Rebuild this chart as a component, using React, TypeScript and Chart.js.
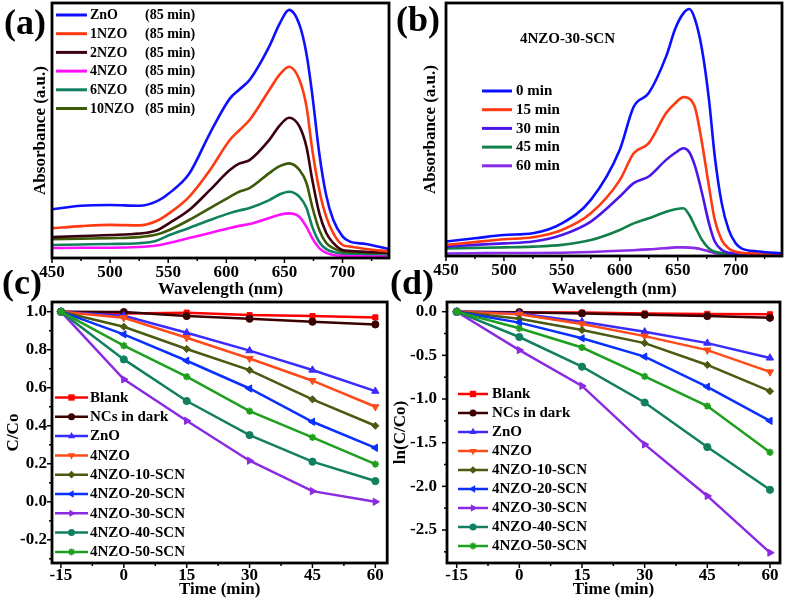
import React, { useEffect, useRef } from "react";
import { Chart, registerables } from "chart.js";

Chart.register(...registerables);

const FONT = "'Liberation Serif', 'Times New Roman', serif";

// ---------- Panel (a): spectra after 85 min ----------
const A_WAVELENGTH = [450, 475, 500, 525, 540, 551, 568, 586, 603, 611, 620, 637, 646, 654, 663, 669, 674, 680, 686, 692, 700, 706, 720, 740];
const A_ZNO = [0.191, 0.205, 0.208, 0.205, 0.222, 0.255, 0.33, 0.49, 0.625, 0.66, 0.698, 0.83, 0.92, 0.973, 0.914, 0.8, 0.64, 0.41, 0.245, 0.15, 0.085, 0.065, 0.055, 0.035];
const A_1NZO = [0.117, 0.125, 0.13, 0.128, 0.145, 0.176, 0.24, 0.345, 0.463, 0.5, 0.541, 0.659, 0.72, 0.75, 0.698, 0.594, 0.424, 0.267, 0.161, 0.098, 0.051, 0.045, 0.035, 0.026];
const A_2NZO = [0.082, 0.086, 0.09, 0.096, 0.108, 0.137, 0.188, 0.267, 0.345, 0.37, 0.384, 0.463, 0.52, 0.55, 0.515, 0.435, 0.306, 0.176, 0.098, 0.059, 0.031, 0.028, 0.024, 0.02];
const A_4NZO = [0.039, 0.04, 0.04, 0.043, 0.049, 0.059, 0.078, 0.098, 0.118, 0.126, 0.133, 0.157, 0.17, 0.175, 0.161, 0.122, 0.078, 0.039, 0.02, 0.012, 0.008, 0.007, 0.006, 0.005];
const A_6NZO = [0.051, 0.053, 0.055, 0.058, 0.068, 0.09, 0.118, 0.149, 0.176, 0.186, 0.196, 0.227, 0.25, 0.26, 0.24, 0.196, 0.122, 0.063, 0.035, 0.024, 0.016, 0.014, 0.012, 0.01];
const A_10NZO = [0.074, 0.076, 0.078, 0.082, 0.092, 0.11, 0.149, 0.196, 0.24, 0.26, 0.274, 0.333, 0.36, 0.371, 0.345, 0.294, 0.2, 0.11, 0.059, 0.039, 0.024, 0.02, 0.017, 0.015];
const A_LABELS = ["ZnO", "1NZO", "2NZO", "4NZO", "6NZO", "10NZO"];
const A_TIME_LABEL = "(85 min)";
const A_COLORS = ["#1010FF", "#FF3A10", "#3A0010", "#FF10FF", "#108060", "#3D5A08"];

// ---------- Panel (b): 4NZO-30-SCN spectra vs time ----------
const B_WAVELENGTH = [450, 475, 500, 525, 550, 575, 600, 612, 625, 640, 648, 655, 660, 665, 671, 677, 682, 688, 694, 700, 705, 720, 740];
const B_0 = [0.057, 0.07, 0.083, 0.09, 0.129, 0.222, 0.42, 0.59, 0.644, 0.789, 0.9, 0.96, 0.976, 0.934, 0.815, 0.617, 0.393, 0.208, 0.103, 0.05, 0.03, 0.018, 0.01];
const B_15 = [0.044, 0.055, 0.066, 0.074, 0.103, 0.169, 0.3, 0.406, 0.446, 0.565, 0.605, 0.628, 0.622, 0.585, 0.446, 0.274, 0.142, 0.063, 0.03, 0.017, 0.013, 0.01, 0.008];
const B_30 = [0.037, 0.044, 0.05, 0.057, 0.083, 0.136, 0.235, 0.288, 0.314, 0.38, 0.408, 0.426, 0.41, 0.354, 0.248, 0.129, 0.057, 0.024, 0.013, 0.01, 0.008, 0.007, 0.006];
const B_45 = [0.03, 0.032, 0.034, 0.037, 0.044, 0.063, 0.103, 0.129, 0.149, 0.175, 0.185, 0.189, 0.162, 0.116, 0.063, 0.03, 0.017, 0.012, 0.01, 0.009, 0.008, 0.007, 0.006];
const B_60 = [0.01, 0.011, 0.012, 0.012, 0.013, 0.016, 0.021, 0.023, 0.026, 0.031, 0.034, 0.034, 0.033, 0.031, 0.026, 0.018, 0.012, 0.008, 0.006, 0.005, 0.005, 0.004, 0.004];
const B_LABELS = ["0 min", "15 min", "30 min", "45 min", "60 min"];
const B_SAMPLE = "4NZO-30-SCN";
const B_COLORS = ["#0A10FF", "#FF3A12", "#4A16E8", "#12804A", "#8A2BE8"];

const WAVE_TICKS = [450, 500, 550, 600, 650, 700];
const WAVE_MINOR = [475, 525, 575, 625, 675, 725];

// ---------- Panels (c) and (d): kinetics ----------
const TIME = [-15, 0, 15, 30, 45, 60];
const TIME_TICKS = [-15, 0, 15, 30, 45, 60];
const TIME_MINOR = [-7.5, 7.5, 22.5, 37.5, 52.5];
const SERIES_LABELS = ["Blank", "NCs in dark", "ZnO", "4NZO", "4NZO-10-SCN", "4NZO-20-SCN", "4NZO-30-SCN", "4NZO-40-SCN", "4NZO-50-SCN"];
const SERIES_COLORS = ["#FF0000", "#3A0000", "#3A2BFF", "#FF4A1A", "#4A5A10", "#0A30FF", "#8A2BE2", "#128060", "#1EA01E"];
const SERIES_MARKERS = ["rect", "circle", "triangle", "triangle", "rectRot", "triangle", "triangle", "circle", "star"];
const SERIES_ROTATION = [0, 0, 0, 180, 0, -90, 90, 0, 0];

const C_BLANK = [1.0, 0.99, 0.995, 0.982, 0.977, 0.97];
const C_DARK = [1.0, 0.998, 0.977, 0.963, 0.947, 0.933];
const C_ZNO = [1.0, 0.979, 0.889, 0.795, 0.693, 0.582];
const C_4NZO = [1.0, 0.968, 0.863, 0.754, 0.637, 0.5];
const C_10SCN = [1.0, 0.921, 0.804, 0.693, 0.539, 0.4];
const C_20SCN = [1.0, 0.881, 0.742, 0.596, 0.421, 0.284];
const C_30SCN = [1.0, 0.644, 0.426, 0.216, 0.056, 0.0];
const C_40SCN = [1.0, 0.749, 0.53, 0.351, 0.211, 0.109];
const C_50SCN = [1.0, 0.821, 0.658, 0.477, 0.339, 0.198];
const C_TICKS = [-0.2, 0, 0.2, 0.4, 0.6, 0.8, 1.0];
const C_MINOR = [-0.3, -0.1, 0.1, 0.3, 0.5, 0.7, 0.9];

const D_BLANK = [0, -0.01, -0.01, -0.02, -0.025, -0.03];
const D_DARK = [0, -0.005, -0.02, -0.035, -0.05, -0.07];
const D_ZNO = [0, -0.02, -0.115, -0.23, -0.36, -0.53];
const D_4NZO = [0, -0.03, -0.14, -0.28, -0.44, -0.69];
const D_10SCN = [0, -0.08, -0.21, -0.36, -0.61, -0.91];
const D_20SCN = [0, -0.125, -0.305, -0.515, -0.86, -1.25];
const D_30SCN = [0, -0.44, -0.85, -1.52, -2.11, -2.76];
const D_40SCN = [0, -0.29, -0.63, -1.04, -1.55, -2.04];
const D_50SCN = [0, -0.19, -0.41, -0.74, -1.08, -1.61];
const D_TICKS = [0, -0.5, -1.0, -1.5, -2.0, -2.5];
const D_MINOR = [-0.25, -0.75, -1.25, -1.75, -2.25, -2.75];

// ---------- drawing helpers ----------
function drawMarker(ctx: CanvasRenderingContext2D, style: string, rot: number, x: number, y: number, r: number, color: string) {
  ctx.save();
  ctx.translate(x, y);
  ctx.rotate((rot * Math.PI) / 180);
  ctx.fillStyle = color;
  ctx.strokeStyle = color;
  ctx.lineWidth = 1.6;
  ctx.beginPath();
  if (style === "rect") {
    const s = r * 0.9;
    ctx.rect(-s, -s, 2 * s, 2 * s);
    ctx.fill();
  } else if (style === "rectRot") {
    ctx.moveTo(0, -r * 1.1);
    ctx.lineTo(r * 1.1, 0);
    ctx.lineTo(0, r * 1.1);
    ctx.lineTo(-r * 1.1, 0);
    ctx.closePath();
    ctx.fill();
  } else if (style === "triangle") {
    const R = r * 1.2;
    for (let k = 0; k < 3; k++) {
      const a = -Math.PI / 2 + (k * 2 * Math.PI) / 3;
      const px = R * Math.cos(a);
      const py = R * Math.sin(a);
      if (k === 0) ctx.moveTo(px, py);
      else ctx.lineTo(px, py);
    }
    ctx.closePath();
    ctx.fill();
  } else if (style === "star") {
    for (let k = 0; k < 4; k++) {
      const a = (k * Math.PI) / 4;
      ctx.moveTo(-r * Math.cos(a), -r * Math.sin(a));
      ctx.lineTo(r * Math.cos(a), r * Math.sin(a));
    }
    ctx.stroke();
  } else {
    ctx.arc(0, 0, r, 0, Math.PI * 2);
    ctx.fill();
  }
  ctx.restore();
}

const decorPlugin = {
  id: "decor",
  afterDraw(chart: any, _args: any, opts: any) {
    const { ctx, chartArea: ca } = chart;
    const xs = chart.scales.x;
    const ys = chart.scales.y;
    ctx.save();
    ctx.strokeStyle = "#000";
    ctx.lineWidth = 1.5;
    const tickX = (vals: number[], len: number) =>
      (vals || []).forEach((v) => {
        const p = xs.getPixelForValue(v);
        if (p < ca.left - 1 || p > ca.right + 1) return;
        ctx.beginPath();
        ctx.moveTo(p, ca.bottom);
        ctx.lineTo(p, ca.bottom + len);
        ctx.stroke();
      });
    const tickY = (vals: number[], len: number) =>
      (vals || []).forEach((v) => {
        const p = ys.getPixelForValue(v);
        if (p < ca.top - 1 || p > ca.bottom + 1) return;
        ctx.beginPath();
        ctx.moveTo(ca.left, p);
        ctx.lineTo(ca.left - len, p);
        ctx.stroke();
      });
    tickX(opts.xMajor, 5);
    tickX(opts.xMinor, 3);
    tickY(opts.yMajor, 5);
    tickY(opts.yMinor, 3);

    ctx.lineWidth = 2.8;
    ctx.strokeRect(ca.left, ca.top, ca.right - ca.left, ca.bottom - ca.top);

    const lg = opts.legend;
    if (lg) {
      ctx.font = `bold ${lg.size}px ${FONT}`;
      ctx.textBaseline = "middle";
      ctx.textAlign = "left";
      chart.data.datasets.forEach((ds: any, i: number) => {
        const y = lg.y0 + i * lg.dy;
        ctx.strokeStyle = ds.borderColor;
        ctx.lineWidth = lg.lineWidth;
        ctx.beginPath();
        ctx.moveTo(lg.x0, y);
        ctx.lineTo(lg.x1, y);
        ctx.stroke();
        if (lg.markers) {
          drawMarker(ctx, ds.pointStyle, ds.pointRotation || 0, (lg.x0 + lg.x1) / 2, y, 3.5, ds.borderColor);
        }
        ctx.fillStyle = "#000";
        ctx.fillText(ds.label, lg.textX, y + 0.5);
        if (lg.suffix) ctx.fillText(lg.suffix, lg.suffixX, y + 0.5);
      });
    }
    (opts.texts || []).forEach((t: any) => {
      ctx.font = `bold ${t.size}px ${FONT}`;
      ctx.fillStyle = "#000";
      ctx.textBaseline = "middle";
      ctx.textAlign = "left";
      ctx.fillText(t.text, t.x, t.y);
    });
    ctx.restore();
  },
};

const tickFont = { family: FONT, size: 17, weight: "bold" as const };
const titleFont = { family: FONT, size: 17, weight: "bold" as const };

type Box = { W: number; H: number; L: number; T: number; R: number; B: number };

function baseScales(box: Box, x: any, y: any) {
  return {
    x: {
      type: "linear",
      min: x.min,
      max: x.max,
      afterBuildTicks: (s: any) => {
        s.ticks = x.ticks.map((v: number) => ({ value: v }));
      },
      afterFit: (s: any) => {
        s.height = box.H - box.B;
      },
      grid: { display: false, drawTicks: false },
      border: { display: false },
      ticks: {
        font: tickFont,
        color: "#000",
        padding: x.pad,
        autoSkip: false,
        maxRotation: 0,
        callback: (v: any) => String(v),
      },
      title: { display: true, text: x.title, font: titleFont, color: "#000", padding: { top: 0, bottom: x.titlePad } },
    },
    y: {
      type: "linear",
      min: y.min,
      max: y.max,
      afterBuildTicks: (s: any) => {
        s.ticks = (y.ticks || []).map((v: number) => ({ value: v }));
      },
      afterFit: (s: any) => {
        s.width = box.L;
      },
      grid: { display: false, drawTicks: false },
      border: { display: false },
      ticks: {
        display: !!y.ticks,
        font: tickFont,
        color: "#000",
        padding: y.pad,
        autoSkip: false,
        callback: (v: any) => Number(v).toFixed(1),
      },
      title: { display: true, text: y.title, font: titleFont, color: "#000", padding: { top: y.titlePad, bottom: 0 } },
    },
  };
}

function spectraConfig(box: Box, xsArr: number[], series: number[][], labels: string[], colors: string[], yTitlePad: number, decor: any) {
  return {
    type: "line",
    data: {
      datasets: series.map((ys, i) => ({
        label: labels[i],
        data: xsArr.map((x, k) => ({ x, y: ys[k] })),
        borderColor: colors[i],
        backgroundColor: colors[i],
        borderWidth: 2.6,
        pointRadius: 0,
        tension: 0.4,
        cubicInterpolationMode: "monotone",
        fill: false,
      })),
    },
    options: {
      responsive: false,
      animation: false,
      devicePixelRatio: 1,
      layout: { padding: { top: box.T, right: box.W - box.R, left: 0, bottom: 0 } },
      scales: baseScales(
        box,
        { min: 450, max: 740, ticks: WAVE_TICKS, pad: 4.5, title: "Wavelength (nm)", titlePad: 2 },
        { min: 0, max: 1, ticks: null, pad: 0, title: "Absorbance (a.u.)", titlePad: yTitlePad }
      ),
      plugins: {
        legend: { display: false },
        tooltip: { enabled: false },
        decor: { xMajor: WAVE_TICKS, xMinor: WAVE_MINOR, ...decor },
      },
    },
    plugins: [decorPlugin],
  };
}

function kineticsConfig(box: Box, series: number[][], y: any, xRange: number[], decor: any) {
  const n = series.length;
  return {
    type: "line",
    data: {
      datasets: series.map((ys, i) => ({
        label: SERIES_LABELS[i],
        data: TIME.map((x, k) => ({ x, y: ys[k] })),
        borderColor: SERIES_COLORS[i],
        backgroundColor: SERIES_COLORS[i],
        borderWidth: 2.5,
        pointStyle: SERIES_MARKERS[i],
        pointRotation: SERIES_ROTATION[i],
        pointRadius: SERIES_MARKERS[i] === "triangle" ? 4.2 : 3.6,
        pointBackgroundColor: SERIES_COLORS[i],
        pointBorderColor: SERIES_COLORS[i],
        pointBorderWidth: SERIES_MARKERS[i] === "star" ? 1.8 : 1,
        tension: 0,
        fill: false,
        order: n - i,
      })),
    },
    options: {
      responsive: false,
      animation: false,
      devicePixelRatio: 1,
      layout: { padding: { top: box.T, right: box.W - box.R, left: 0, bottom: 0 } },
      scales: baseScales(
        box,
        { min: xRange[0], max: xRange[1], ticks: TIME_TICKS, pad: 2, title: "Time (min)", titlePad: 4 },
        y
      ),
      plugins: {
        legend: { display: false },
        tooltip: { enabled: false },
        decor: { xMajor: TIME_TICKS, xMinor: TIME_MINOR, ...decor },
      },
    },
    plugins: [decorPlugin],
  };
}

function Panel({ left, top, width, height, config }: { left: number; top: number; width: number; height: number; config: any }) {
  const ref = useRef<HTMLCanvasElement | null>(null);
  useEffect(() => {
    if (!ref.current) return;
    const chart = new Chart(ref.current, config);
    return () => chart.destroy();
  }, []);
  return (
    <canvas
      ref={ref}
      width={width}
      height={height}
      style={{ position: "absolute", left, top, width, height }}
    />
  );
}

const BOX_A: Box = { W: 393, H: 302, L: 52, T: 3, R: 389, B: 258 };
const BOX_B: Box = { W: 400, H: 302, L: 60, T: 3, R: 396, B: 256 };
const BOX_C: Box = { W: 393, H: 334, L: 52, T: 32, R: 390, B: 293 };
const BOX_D: Box = { W: 400, H: 334, L: 61, T: 32, R: 394, B: 293 };

const configA = spectraConfig(
  BOX_A,
  A_WAVELENGTH,
  [A_ZNO, A_1NZO, A_2NZO, A_4NZO, A_6NZO, A_10NZO],
  A_LABELS,
  A_COLORS,
  30,
  {
    legend: { x0: 56, x1: 87, textX: 90, suffix: A_TIME_LABEL, suffixX: 145, y0: 15, dy: 18.7, size: 14, lineWidth: 3, markers: false },
    texts: [{ text: "(a)", x: 4, y: 25, size: 36 }],
  }
);

const configB = spectraConfig(
  BOX_B,
  B_WAVELENGTH,
  [B_0, B_15, B_30, B_45, B_60],
  B_LABELS,
  B_COLORS,
  34,
  {
    legend: { x0: 96, x1: 126, textX: 130, y0: 91, dy: 18.7, size: 15, lineWidth: 3, markers: false },
    texts: [
      { text: "(b)", x: 10, y: 22, size: 36 },
      { text: B_SAMPLE, x: 134, y: 39, size: 15 },
    ],
  }
);

const configC = kineticsConfig(
  BOX_C,
  [C_BLANK, C_DARK, C_ZNO, C_4NZO, C_10SCN, C_20SCN, C_30SCN, C_40SCN, C_50SCN],
  { min: -0.322, max: 1.051, ticks: C_TICKS, pad: 5, title: "C/Co", titlePad: 3 },
  [-17.13, 62.83],
  {
    yMajor: C_TICKS,
    yMinor: C_MINOR,
    legend: { x0: 55, x1: 88, textX: 90, y0: 127.5, dy: 19.3, size: 15, lineWidth: 2.5, markers: true },
    texts: [{ text: "(c)", x: 2, y: 15, size: 36 }],
  }
);

const configD = kineticsConfig(
  BOX_D,
  [D_BLANK, D_DARK, D_ZNO, D_4NZO, D_10SCN, D_20SCN, D_30SCN, D_40SCN, D_50SCN],
  { min: -2.878, max: 0.111, ticks: D_TICKS, pad: 10, title: "ln(C/Co)", titlePad: 4 },
  [-17.32, 62.4],
  {
    yMajor: D_TICKS,
    yMinor: D_MINOR,
    legend: { x0: 72, x1: 102, textX: 106, y0: 124, dy: 19, size: 15, lineWidth: 2.5, markers: true },
    texts: [{ text: "(d)", x: 4, y: 15, size: 36 }],
  }
);

export default function App() {
  return (
    <div style={{ position: "absolute", left: 0, top: 0, width: 786, height: 604, background: "#fff", overflow: "hidden" }}>
      <Panel left={0} top={0} width={BOX_A.W} height={BOX_A.H} config={configA} />
      <Panel left={386} top={0} width={BOX_B.W} height={BOX_B.H} config={configB} />
      <Panel left={0} top={270} width={BOX_C.W} height={BOX_C.H} config={configC} />
      <Panel left={386} top={270} width={BOX_D.W} height={BOX_D.H} config={configD} />
    </div>
  );
}
